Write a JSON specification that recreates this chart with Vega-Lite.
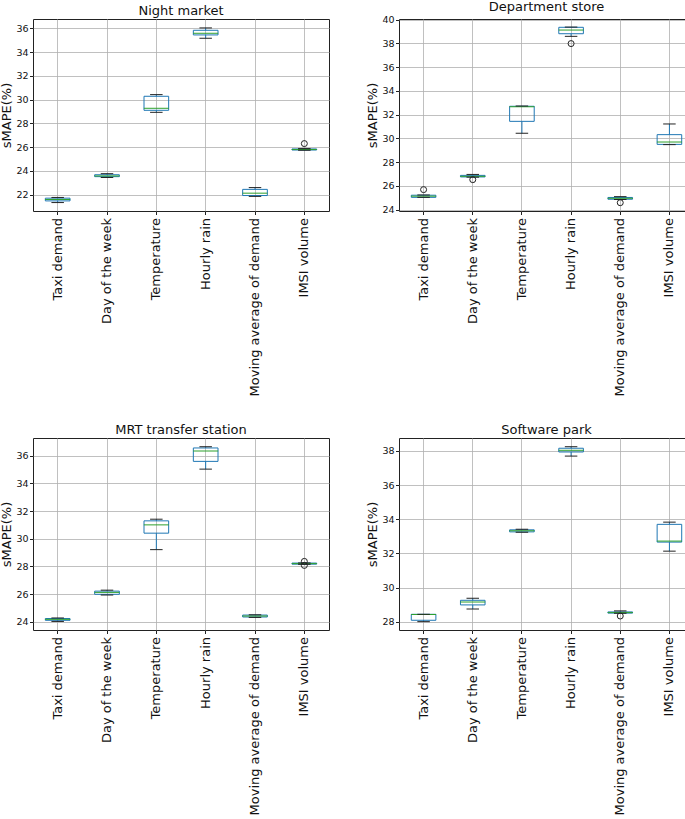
{
  "$schema": "https://vega.github.io/schema/vega-lite/v6.json",
  "padding": {"left": 0, "top": 0, "right": 0, "bottom": 0},
  "config": {
    "font": "DejaVu Sans",
    "view": {"stroke": "#222", "strokeWidth": 1},
    "axis": {
      "domain": false,
      "grid": true,
      "gridColor": "#b0b0b0",
      "gridWidth": 0.8,
      "tickColor": "#222",
      "tickSize": 3.5,
      "labelColor": "#111",
      "titleColor": "#111",
      "titleFontWeight": "normal",
      "labelFont": "DejaVu Sans",
      "titleFont": "DejaVu Sans",
      "labelOverlap": false
    },
    "axisY": {"labelFontSize": 9.5, "titleFontSize": 13, "titlePadding": 2, "labelPadding": 1.5},
    "axisX": {"labelFontSize": 13, "labelLimit": 0},
    "title": {"font": "DejaVu Sans", "fontSize": 13, "fontWeight": "normal", "color": "#111", "offset": 1}
  },
  "datasets": {
    "boxes": [
      {"panel": "Night market", "feature": "Taxi demand", "lo": 21.34, "q1": 21.48, "med": 21.6, "q3": 21.71, "hi": 21.77},
      {"panel": "Night market", "feature": "Day of the week", "lo": 23.45, "q1": 23.52, "med": 23.58, "q3": 23.68, "hi": 23.77},
      {"panel": "Night market", "feature": "Temperature", "lo": 28.93, "q1": 29.1, "med": 29.27, "q3": 30.28, "hi": 30.42},
      {"panel": "Night market", "feature": "Hourly rain", "lo": 35.16, "q1": 35.44, "med": 35.58, "q3": 35.83, "hi": 36.03},
      {"panel": "Night market", "feature": "Moving average of demand", "lo": 21.86, "q1": 21.93, "med": 22.13, "q3": 22.45, "hi": 22.6},
      {"panel": "Night market", "feature": "IMSI volume", "lo": 25.74, "q1": 25.76, "med": 25.8, "q3": 25.85, "hi": 25.88},
      {"panel": "Department store", "feature": "Taxi demand", "lo": 25.04, "q1": 25.04, "med": 25.14, "q3": 25.22, "hi": 25.24},
      {"panel": "Department store", "feature": "Day of the week", "lo": 26.74, "q1": 26.76, "med": 26.81, "q3": 26.89, "hi": 26.97},
      {"panel": "Department store", "feature": "Temperature", "lo": 30.43, "q1": 31.44, "med": 32.68, "q3": 32.71, "hi": 32.74},
      {"panel": "Department store", "feature": "Hourly rain", "lo": 38.6, "q1": 38.82, "med": 39.13, "q3": 39.36, "hi": 39.38},
      {"panel": "Department store", "feature": "Moving average of demand", "lo": 24.86, "q1": 24.88, "med": 24.96, "q3": 25.03, "hi": 25.1},
      {"panel": "Department store", "feature": "IMSI volume", "lo": 29.48, "q1": 29.5, "med": 29.7, "q3": 30.32, "hi": 31.22},
      {"panel": "MRT transfer station", "feature": "Taxi demand", "lo": 24.02, "q1": 24.1, "med": 24.17, "q3": 24.23, "hi": 24.27},
      {"panel": "MRT transfer station", "feature": "Day of the week", "lo": 25.93, "q1": 25.98, "med": 26.12, "q3": 26.21, "hi": 26.28},
      {"panel": "MRT transfer station", "feature": "Temperature", "lo": 29.21, "q1": 30.4, "med": 31.0, "q3": 31.29, "hi": 31.41},
      {"panel": "MRT transfer station", "feature": "Hourly rain", "lo": 35.03, "q1": 35.59, "med": 36.34, "q3": 36.56, "hi": 36.65},
      {"panel": "MRT transfer station", "feature": "Moving average of demand", "lo": 24.31, "q1": 24.34, "med": 24.41, "q3": 24.48, "hi": 24.5},
      {"panel": "MRT transfer station", "feature": "IMSI volume", "lo": 28.15, "q1": 28.16, "med": 28.2, "q3": 28.24, "hi": 28.25},
      {"panel": "Software park", "feature": "Taxi demand", "lo": 28.0, "q1": 28.08, "med": 28.42, "q3": 28.43, "hi": 28.43},
      {"panel": "Software park", "feature": "Day of the week", "lo": 28.74, "q1": 28.98, "med": 29.15, "q3": 29.25, "hi": 29.37},
      {"panel": "Software park", "feature": "Temperature", "lo": 33.24, "q1": 33.26, "med": 33.32, "q3": 33.38, "hi": 33.42},
      {"panel": "Software park", "feature": "Hourly rain", "lo": 37.7, "q1": 37.94, "med": 38.04, "q3": 38.16, "hi": 38.25},
      {"panel": "Software park", "feature": "Moving average of demand", "lo": 28.49, "q1": 28.5, "med": 28.53, "q3": 28.57, "hi": 28.63},
      {"panel": "Software park", "feature": "IMSI volume", "lo": 32.13, "q1": 32.66, "med": 32.72, "q3": 33.7, "hi": 33.83}
    ],
    "outliers": [
      {"panel": "Night market", "feature": "IMSI volume", "value": 26.3},
      {"panel": "Department store", "feature": "Taxi demand", "value": 25.69},
      {"panel": "Department store", "feature": "Day of the week", "value": 26.53},
      {"panel": "Department store", "feature": "Hourly rain", "value": 37.99},
      {"panel": "Department store", "feature": "Moving average of demand", "value": 24.59},
      {"panel": "MRT transfer station", "feature": "IMSI volume", "value": 28.36},
      {"panel": "MRT transfer station", "feature": "IMSI volume", "value": 28.07},
      {"panel": "Software park", "feature": "Moving average of demand", "value": 28.33}
    ]
  },
  "spacing": 26,
  "vconcat": [
    {
      "spacing": 36,
      "hconcat": [
        {
          "title": "Night market",
          "width": 296, "height": 192,
          "data": {"name": "boxes"},
          "transform": [{"filter": "datum.panel === 'Night market'"}],
          "encoding": {
            "x": {"field": "feature", "type": "nominal", "title": null,
              "sort": ["Taxi demand", "Day of the week", "Temperature", "Hourly rain", "Moving average of demand", "IMSI volume"],
              "scale": {"paddingInner": 0, "paddingOuter": 0},
              "axis": {"labelAngle": -90, "bandPosition": 0.5, "grid": true, "labelPadding": 3}}
          },
          "layer": [
            {"mark": {"type": "rule", "color": "#1f77b4", "strokeWidth": 1},
              "encoding": {"y": {"field": "lo", "type": "quantitative", "title": "sMAPE(%)", "scale": {"domain": [20.63, 36.78], "zero": false, "nice": false}, "axis": {"values": [22, 24, 26, 28, 30, 32, 34, 36]}}, "y2": {"field": "q1"}}},
            {"mark": {"type": "rule", "color": "#1f77b4", "strokeWidth": 1},
              "encoding": {"y": {"field": "q3", "type": "quantitative", "title": "sMAPE(%)", "axis": {"values": [22, 24, 26, 28, 30, 32, 34, 36]}}, "y2": {"field": "hi"}}},
            {"mark": {"type": "bar", "fill": null, "fillOpacity": 0, "stroke": "#1f77b4", "strokeWidth": 1, "width": {"band": 0.5}},
              "encoding": {"y": {"field": "q1", "type": "quantitative", "title": "sMAPE(%)", "axis": {"values": [22, 24, 26, 28, 30, 32, 34, 36]}}, "y2": {"field": "q3"}}},
            {"mark": {"type": "tick", "color": "#2ca02c", "size": 25, "thickness": 1, "opacity": 1},
              "encoding": {"y": {"field": "med", "type": "quantitative", "title": "sMAPE(%)", "axis": {"values": [22, 24, 26, 28, 30, 32, 34, 36]}}}},
            {"mark": {"type": "tick", "color": "#222", "size": 12.5, "thickness": 1, "opacity": 1},
              "encoding": {"y": {"field": "lo", "type": "quantitative", "title": "sMAPE(%)", "axis": {"values": [22, 24, 26, 28, 30, 32, 34, 36]}}}},
            {"mark": {"type": "tick", "color": "#222", "size": 12.5, "thickness": 1, "opacity": 1},
              "encoding": {"y": {"field": "hi", "type": "quantitative", "title": "sMAPE(%)", "axis": {"values": [22, 24, 26, 28, 30, 32, 34, 36]}}}},
            {"data": {"name": "outliers"},
              "transform": [{"filter": "datum.panel === 'Night market'"}],
              "mark": {"type": "point", "shape": "circle", "filled": false, "stroke": "#222", "strokeWidth": 1, "size": 36, "opacity": 1},
              "encoding": {"y": {"field": "value", "type": "quantitative", "title": "sMAPE(%)", "axis": {"values": [22, 24, 26, 28, 30, 32, 34, 36]}}}}
          ]
        },
        {
          "title": "Department store",
          "width": 295, "height": 192,
          "data": {"name": "boxes"},
          "transform": [{"filter": "datum.panel === 'Department store'"}],
          "encoding": {
            "x": {"field": "feature", "type": "nominal", "title": null,
              "sort": ["Taxi demand", "Day of the week", "Temperature", "Hourly rain", "Moving average of demand", "IMSI volume"],
              "scale": {"paddingInner": 0, "paddingOuter": 0},
              "axis": {"labelAngle": -90, "bandPosition": 0.5, "grid": true, "labelPadding": 3}}
          },
          "layer": [
            {"mark": {"type": "rule", "color": "#1f77b4", "strokeWidth": 1},
              "encoding": {"y": {"field": "lo", "type": "quantitative", "title": "sMAPE(%)", "scale": {"domain": [23.89, 40.06], "zero": false, "nice": false}, "axis": {"values": [24, 26, 28, 30, 32, 34, 36, 38, 40]}}, "y2": {"field": "q1"}}},
            {"mark": {"type": "rule", "color": "#1f77b4", "strokeWidth": 1},
              "encoding": {"y": {"field": "q3", "type": "quantitative", "title": "sMAPE(%)", "axis": {"values": [24, 26, 28, 30, 32, 34, 36, 38, 40]}}, "y2": {"field": "hi"}}},
            {"mark": {"type": "bar", "fill": null, "fillOpacity": 0, "stroke": "#1f77b4", "strokeWidth": 1, "width": {"band": 0.5}},
              "encoding": {"y": {"field": "q1", "type": "quantitative", "title": "sMAPE(%)", "axis": {"values": [24, 26, 28, 30, 32, 34, 36, 38, 40]}}, "y2": {"field": "q3"}}},
            {"mark": {"type": "tick", "color": "#2ca02c", "size": 25, "thickness": 1, "opacity": 1},
              "encoding": {"y": {"field": "med", "type": "quantitative", "title": "sMAPE(%)", "axis": {"values": [24, 26, 28, 30, 32, 34, 36, 38, 40]}}}},
            {"mark": {"type": "tick", "color": "#222", "size": 12.5, "thickness": 1, "opacity": 1},
              "encoding": {"y": {"field": "lo", "type": "quantitative", "title": "sMAPE(%)", "axis": {"values": [24, 26, 28, 30, 32, 34, 36, 38, 40]}}}},
            {"mark": {"type": "tick", "color": "#222", "size": 12.5, "thickness": 1, "opacity": 1},
              "encoding": {"y": {"field": "hi", "type": "quantitative", "title": "sMAPE(%)", "axis": {"values": [24, 26, 28, 30, 32, 34, 36, 38, 40]}}}},
            {"data": {"name": "outliers"},
              "transform": [{"filter": "datum.panel === 'Department store'"}],
              "mark": {"type": "point", "shape": "circle", "filled": false, "stroke": "#222", "strokeWidth": 1, "size": 36, "opacity": 1},
              "encoding": {"y": {"field": "value", "type": "quantitative", "title": "sMAPE(%)", "axis": {"values": [24, 26, 28, 30, 32, 34, 36, 38, 40]}}}}
          ]
        }
      ]
    },
    {
      "spacing": 36,
      "hconcat": [
        {
          "title": "MRT transfer station",
          "width": 296, "height": 192,
          "data": {"name": "boxes"},
          "transform": [{"filter": "datum.panel === 'MRT transfer station'"}],
          "encoding": {
            "x": {"field": "feature", "type": "nominal", "title": null,
              "sort": ["Taxi demand", "Day of the week", "Temperature", "Hourly rain", "Moving average of demand", "IMSI volume"],
              "scale": {"paddingInner": 0, "paddingOuter": 0},
              "axis": {"labelAngle": -90, "bandPosition": 0.5, "grid": true, "labelPadding": 3}}
          },
          "layer": [
            {"mark": {"type": "rule", "color": "#1f77b4", "strokeWidth": 1},
              "encoding": {"y": {"field": "lo", "type": "quantitative", "title": "sMAPE(%)", "scale": {"domain": [23.4, 37.28], "zero": false, "nice": false}, "axis": {"values": [24, 26, 28, 30, 32, 34, 36]}}, "y2": {"field": "q1"}}},
            {"mark": {"type": "rule", "color": "#1f77b4", "strokeWidth": 1},
              "encoding": {"y": {"field": "q3", "type": "quantitative", "title": "sMAPE(%)", "axis": {"values": [24, 26, 28, 30, 32, 34, 36]}}, "y2": {"field": "hi"}}},
            {"mark": {"type": "bar", "fill": null, "fillOpacity": 0, "stroke": "#1f77b4", "strokeWidth": 1, "width": {"band": 0.5}},
              "encoding": {"y": {"field": "q1", "type": "quantitative", "title": "sMAPE(%)", "axis": {"values": [24, 26, 28, 30, 32, 34, 36]}}, "y2": {"field": "q3"}}},
            {"mark": {"type": "tick", "color": "#2ca02c", "size": 25, "thickness": 1, "opacity": 1},
              "encoding": {"y": {"field": "med", "type": "quantitative", "title": "sMAPE(%)", "axis": {"values": [24, 26, 28, 30, 32, 34, 36]}}}},
            {"mark": {"type": "tick", "color": "#222", "size": 12.5, "thickness": 1, "opacity": 1},
              "encoding": {"y": {"field": "lo", "type": "quantitative", "title": "sMAPE(%)", "axis": {"values": [24, 26, 28, 30, 32, 34, 36]}}}},
            {"mark": {"type": "tick", "color": "#222", "size": 12.5, "thickness": 1, "opacity": 1},
              "encoding": {"y": {"field": "hi", "type": "quantitative", "title": "sMAPE(%)", "axis": {"values": [24, 26, 28, 30, 32, 34, 36]}}}},
            {"data": {"name": "outliers"},
              "transform": [{"filter": "datum.panel === 'MRT transfer station'"}],
              "mark": {"type": "point", "shape": "circle", "filled": false, "stroke": "#222", "strokeWidth": 1, "size": 36, "opacity": 1},
              "encoding": {"y": {"field": "value", "type": "quantitative", "title": "sMAPE(%)", "axis": {"values": [24, 26, 28, 30, 32, 34, 36]}}}}
          ]
        },
        {
          "title": "Software park",
          "width": 295, "height": 192,
          "data": {"name": "boxes"},
          "transform": [{"filter": "datum.panel === 'Software park'"}],
          "encoding": {
            "x": {"field": "feature", "type": "nominal", "title": null,
              "sort": ["Taxi demand", "Day of the week", "Temperature", "Hourly rain", "Moving average of demand", "IMSI volume"],
              "scale": {"paddingInner": 0, "paddingOuter": 0},
              "axis": {"labelAngle": -90, "bandPosition": 0.5, "grid": true, "labelPadding": 3}}
          },
          "layer": [
            {"mark": {"type": "rule", "color": "#1f77b4", "strokeWidth": 1},
              "encoding": {"y": {"field": "lo", "type": "quantitative", "title": "sMAPE(%)", "scale": {"domain": [27.51, 38.76], "zero": false, "nice": false}, "axis": {"values": [28, 30, 32, 34, 36, 38]}}, "y2": {"field": "q1"}}},
            {"mark": {"type": "rule", "color": "#1f77b4", "strokeWidth": 1},
              "encoding": {"y": {"field": "q3", "type": "quantitative", "title": "sMAPE(%)", "axis": {"values": [28, 30, 32, 34, 36, 38]}}, "y2": {"field": "hi"}}},
            {"mark": {"type": "bar", "fill": null, "fillOpacity": 0, "stroke": "#1f77b4", "strokeWidth": 1, "width": {"band": 0.5}},
              "encoding": {"y": {"field": "q1", "type": "quantitative", "title": "sMAPE(%)", "axis": {"values": [28, 30, 32, 34, 36, 38]}}, "y2": {"field": "q3"}}},
            {"mark": {"type": "tick", "color": "#2ca02c", "size": 25, "thickness": 1, "opacity": 1},
              "encoding": {"y": {"field": "med", "type": "quantitative", "title": "sMAPE(%)", "axis": {"values": [28, 30, 32, 34, 36, 38]}}}},
            {"mark": {"type": "tick", "color": "#222", "size": 12.5, "thickness": 1, "opacity": 1},
              "encoding": {"y": {"field": "lo", "type": "quantitative", "title": "sMAPE(%)", "axis": {"values": [28, 30, 32, 34, 36, 38]}}}},
            {"mark": {"type": "tick", "color": "#222", "size": 12.5, "thickness": 1, "opacity": 1},
              "encoding": {"y": {"field": "hi", "type": "quantitative", "title": "sMAPE(%)", "axis": {"values": [28, 30, 32, 34, 36, 38]}}}},
            {"data": {"name": "outliers"},
              "transform": [{"filter": "datum.panel === 'Software park'"}],
              "mark": {"type": "point", "shape": "circle", "filled": false, "stroke": "#222", "strokeWidth": 1, "size": 36, "opacity": 1},
              "encoding": {"y": {"field": "value", "type": "quantitative", "title": "sMAPE(%)", "axis": {"values": [28, 30, 32, 34, 36, 38]}}}}
          ]
        }
      ]
    }
  ]
}
